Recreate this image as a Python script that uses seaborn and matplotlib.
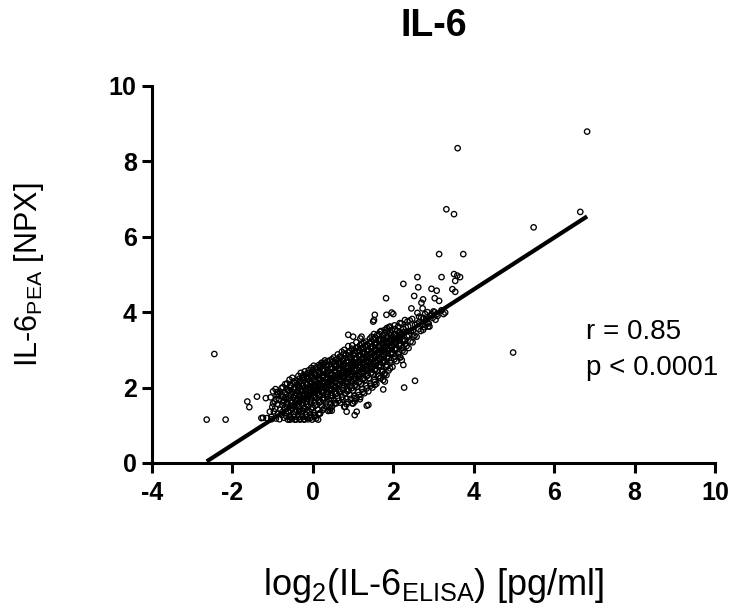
import numpy as np
import pandas as pd
import matplotlib
matplotlib.use("Agg")
import matplotlib.pyplot as plt
import seaborn as sns

# data: log2(IL-6 ELISA) vs IL-6 PEA (NPX)
outlier_pts = [(-2.64, 1.15), (-2.17, 1.15), (-2.45, 2.89), (3.14, 5.54), (3.74, 5.54),
               (3.32, 6.73), (3.51, 6.60), (3.60, 8.35), (5.49, 6.25), (6.65, 6.66),
               (6.82, 8.79), (4.98, 2.93)]

edge_pts = [(-1.63, 1.63), (-1.58, 1.48), (-1.39, 1.76), (-1.17, 1.72), (-1.28, 1.19),
            (-1.24, 1.20), (-1.14, 1.19), (-1.03, 1.16), (-1.07, 1.36), (-0.99, 1.58),
            (-0.89, 1.88), (-0.78, 1.98), (-0.74, 1.76), (-0.90, 1.80),
            (-0.57, 1.15), (-0.45, 1.15), (-0.32, 1.15), (-0.20, 1.16), (-0.07, 1.19),
            (0.05, 1.23), (0.13, 1.15), (0.17, 1.32), (0.42, 1.39), (0.47, 1.39),
            (0.80, 1.49), (0.84, 1.36), (1.04, 1.27), (1.09, 1.36), (1.00, 1.58),
            (1.04, 1.63), (1.17, 1.69), (1.38, 1.54), (1.34, 1.52), (1.54, 2.07),
            (1.75, 1.95), (2.27, 2.00), (2.54, 2.18), (1.67, 2.25), (1.75, 2.20),
            (1.79, 2.16), (1.83, 2.33), (1.79, 2.38), (1.92, 2.51), (2.16, 2.80),
            (2.21, 2.73), (2.25, 2.60),
            (2.29, 3.16), (2.50, 3.35), (2.74, 3.53), (2.87, 3.62), (1.50, 3.75),
            (1.54, 3.93), (1.52, 3.79), (1.83, 3.93), (1.96, 3.99), (2.00, 3.95),
            (0.88, 3.40), (1.00, 3.35), (1.21, 3.35), (1.46, 3.35), (1.67, 3.48),
            (1.79, 3.53), (2.16, 3.71), (2.29, 3.79), (1.92, 3.62), (1.82, 4.37),
            (2.45, 4.10), (2.73, 4.10), (2.74, 4.34), (2.70, 4.25), (3.03, 4.37),
            (3.14, 4.30), (2.95, 4.62), (3.08, 4.57), (2.52, 4.43), (2.62, 4.66),
            (2.25, 4.75), (2.60, 4.93), (3.20, 4.93), (3.51, 5.01), (3.59, 4.97),
            (3.66, 4.93), (3.54, 4.83), (3.47, 4.61), (3.54, 4.54), (3.29, 3.99),
            (2.75, 3.85), (2.85, 3.72), (2.95, 3.95), (3.05, 3.80), (3.10, 3.90),
            (3.20, 4.05), (3.25, 3.95), (2.90, 3.62), (3.00, 4.02), (2.65, 3.74),
            (2.60, 3.98), (2.85, 4.00), (0.22, 2.64), (0.30, 2.72), (0.15, 2.60)]

core_pts = [
    (-1.03, 1.22), (-0.97, 1.37), (-1.01, 1.49), (-0.95, 1.63), (-1.05, 1.74), (-0.99, 1.90),
    (-0.92, 1.18), (-0.87, 1.31), (-0.94, 1.44), (-0.88, 1.57), (-0.91, 1.69), (-0.86, 1.83), (-0.93, 1.96),
    (-0.83, 1.16), (-0.77, 1.28), (-0.81, 1.41), (-0.76, 1.54), (-0.84, 1.67), (-0.79, 1.77), (-0.82, 1.89), (-0.75, 2.01),
    (-0.72, 1.20), (-0.67, 1.33), (-0.71, 1.45), (-0.66, 1.56), (-0.73, 1.64), (-0.68, 1.74), (-0.70, 1.86), (-0.65, 1.97), (-0.69, 2.09),
    (-0.62, 1.15), (-0.58, 1.26), (-0.61, 1.37), (-0.56, 1.51), (-0.63, 1.60), (-0.59, 1.71), (-0.55, 1.79), (-0.60, 1.91), (-0.57, 2.00), (-0.64, 2.11), (-0.58, 2.21),
    (-0.52, 1.17), (-0.48, 1.29), (-0.51, 1.43), (-0.46, 1.52), (-0.53, 1.61), (-0.49, 1.73), (-0.45, 1.81), (-0.50, 1.87), (-0.47, 1.97), (-0.54, 2.04), (-0.48, 2.16), (-0.51, 2.26),
    (-0.42, 1.15), (-0.37, 1.27), (-0.41, 1.41), (-0.36, 1.49), (-0.43, 1.60), (-0.39, 1.69), (-0.35, 1.76), (-0.40, 1.85), (-0.38, 1.92), (-0.44, 2.01), (-0.37, 2.08), (-0.41, 2.19), (-0.36, 2.31),
    (-0.32, 1.17), (-0.28, 1.31), (-0.31, 1.42), (-0.26, 1.55), (-0.33, 1.63), (-0.29, 1.71), (-0.25, 1.80), (-0.30, 1.89), (-0.27, 1.95), (-0.34, 2.03), (-0.28, 2.11), (-0.31, 2.18), (-0.26, 2.28), (-0.30, 2.39),
    (-0.22, 1.15), (-0.18, 1.29), (-0.21, 1.46), (-0.16, 1.56), (-0.23, 1.66), (-0.19, 1.73), (-0.15, 1.82), (-0.20, 1.91), (-0.17, 1.97), (-0.24, 2.05), (-0.18, 2.12), (-0.21, 2.21), (-0.16, 2.30), (-0.20, 2.43),
    (-0.12, 1.16), (-0.08, 1.36), (-0.11, 1.50), (-0.06, 1.61), (-0.13, 1.70), (-0.09, 1.78), (-0.05, 1.87), (-0.10, 1.94), (-0.07, 2.02), (-0.14, 2.08), (-0.08, 2.17), (-0.11, 2.24), (-0.06, 2.34), (-0.10, 2.46),
    (-0.02, 1.15), (0.03, 1.33), (-0.01, 1.48), (0.04, 1.60), (-0.03, 1.71), (0.01, 1.79), (0.05, 1.88), (0.00, 1.95), (0.02, 2.03), (-0.04, 2.10), (0.03, 2.19), (-0.01, 2.26), (0.04, 2.36), (0.00, 2.47), (0.02, 2.58),
    (0.08, 1.18), (0.13, 1.41), (0.09, 1.55), (0.14, 1.67), (0.07, 1.76), (0.11, 1.85), (0.15, 1.93), (0.10, 2.00), (0.12, 2.08), (0.06, 2.14), (0.13, 2.23), (0.09, 2.30), (0.14, 2.41), (0.10, 2.52),
    (0.18, 1.31), (0.23, 1.50), (0.19, 1.63), (0.24, 1.72), (0.17, 1.82), (0.21, 1.90), (0.25, 1.99), (0.20, 2.06), (0.22, 2.13), (0.16, 2.21), (0.23, 2.28), (0.19, 2.37), (0.24, 2.45), (0.20, 2.58), (0.22, 2.66),
    (0.28, 1.45), (0.33, 1.61), (0.29, 1.72), (0.34, 1.83), (0.27, 1.91), (0.31, 1.99), (0.35, 2.07), (0.30, 2.15), (0.32, 2.21), (0.26, 2.29), (0.33, 2.36), (0.29, 2.44), (0.34, 2.55), (0.30, 2.66),
    (0.38, 1.38), (0.43, 1.55), (0.39, 1.69), (0.44, 1.79), (0.37, 1.88), (0.41, 1.97), (0.45, 2.05), (0.40, 2.13), (0.42, 2.20), (0.36, 2.27), (0.43, 2.35), (0.39, 2.42), (0.44, 2.50), (0.40, 2.61), (0.42, 2.72),
    (0.48, 1.50), (0.53, 1.66), (0.49, 1.78), (0.54, 1.89), (0.47, 1.97), (0.51, 2.05), (0.55, 2.14), (0.50, 2.21), (0.52, 2.28), (0.46, 2.35), (0.53, 2.43), (0.49, 2.50), (0.54, 2.58), (0.50, 2.69), (0.52, 2.80),
    (0.58, 1.58), (0.63, 1.72), (0.59, 1.84), (0.64, 1.95), (0.57, 2.03), (0.61, 2.11), (0.65, 2.19), (0.60, 2.27), (0.62, 2.34), (0.56, 2.41), (0.63, 2.49), (0.59, 2.56), (0.64, 2.65), (0.60, 2.75), (0.62, 2.88),
    (0.68, 1.60), (0.73, 1.75), (0.69, 1.88), (0.74, 1.99), (0.67, 2.09), (0.71, 2.17), (0.75, 2.25), (0.70, 2.33), (0.72, 2.40), (0.66, 2.47), (0.73, 2.54), (0.69, 2.62), (0.74, 2.71), (0.70, 2.82), (0.72, 2.95),
    (0.78, 1.49), (0.83, 1.70), (0.79, 1.85), (0.84, 1.96), (0.77, 2.06), (0.81, 2.15), (0.85, 2.23), (0.80, 2.31), (0.82, 2.39), (0.76, 2.46), (0.83, 2.53), (0.79, 2.60), (0.84, 2.68), (0.80, 2.77), (0.82, 2.88), (0.78, 3.00),
    (0.88, 1.62), (0.93, 1.80), (0.89, 1.94), (0.94, 2.05), (0.87, 2.15), (0.91, 2.24), (0.95, 2.32), (0.90, 2.40), (0.92, 2.47), (0.86, 2.54), (0.93, 2.61), (0.89, 2.68), (0.94, 2.76), (0.90, 2.85), (0.92, 2.96), (0.88, 3.10),
    (0.98, 1.58), (1.03, 1.78), (0.99, 1.92), (1.04, 2.04), (0.97, 2.14), (1.01, 2.23), (1.05, 2.32), (1.00, 2.40), (1.02, 2.48), (0.96, 2.55), (1.03, 2.62), (0.99, 2.70), (1.04, 2.78), (1.00, 2.87), (1.02, 2.98), (0.98, 3.12),
    (1.08, 1.70), (1.13, 1.88), (1.09, 2.02), (1.14, 2.13), (1.07, 2.23), (1.11, 2.32), (1.15, 2.40), (1.10, 2.48), (1.12, 2.56), (1.06, 2.63), (1.13, 2.70), (1.09, 2.78), (1.14, 2.86), (1.10, 2.95), (1.12, 3.06), (1.08, 3.20),
    (1.18, 1.75), (1.23, 1.95), (1.19, 2.10), (1.24, 2.22), (1.17, 2.32), (1.21, 2.41), (1.25, 2.49), (1.20, 2.57), (1.22, 2.64), (1.16, 2.71), (1.23, 2.78), (1.19, 2.86), (1.24, 2.94), (1.20, 3.04), (1.22, 3.16), (1.18, 3.30),
    (1.28, 1.85), (1.33, 2.05), (1.29, 2.20), (1.34, 2.30), (1.27, 2.40), (1.31, 2.48), (1.35, 2.56), (1.30, 2.63), (1.32, 2.70), (1.26, 2.77), (1.33, 2.84), (1.29, 2.92), (1.34, 3.00), (1.30, 3.10), (1.32, 3.22),
    (1.38, 1.90), (1.43, 2.10), (1.39, 2.25), (1.44, 2.37), (1.37, 2.47), (1.41, 2.55), (1.45, 2.63), (1.40, 2.70), (1.42, 2.77), (1.36, 2.84), (1.43, 2.91), (1.39, 2.99), (1.44, 3.08), (1.40, 3.18), (1.42, 3.30),
    (1.48, 2.00), (1.53, 2.20), (1.49, 2.35), (1.54, 2.46), (1.47, 2.55), (1.51, 2.63), (1.55, 2.71), (1.50, 2.78), (1.52, 2.85), (1.46, 2.92), (1.53, 3.00), (1.49, 3.08), (1.54, 3.17), (1.50, 3.28), (1.52, 3.42),
    (1.58, 2.10), (1.63, 2.30), (1.59, 2.45), (1.64, 2.55), (1.57, 2.64), (1.61, 2.72), (1.65, 2.80), (1.60, 2.88), (1.62, 2.95), (1.56, 3.02), (1.63, 3.10), (1.59, 3.18), (1.64, 3.28), (1.60, 3.40),
    (1.68, 2.25), (1.73, 2.42), (1.69, 2.55), (1.74, 2.65), (1.67, 2.74), (1.71, 2.82), (1.75, 2.90), (1.70, 2.97), (1.72, 3.04), (1.66, 3.11), (1.73, 3.19), (1.69, 3.28), (1.74, 3.38), (1.70, 3.50),
    (1.78, 2.35), (1.83, 2.55), (1.79, 2.68), (1.84, 2.78), (1.77, 2.87), (1.81, 2.95), (1.85, 3.03), (1.80, 3.10), (1.82, 3.17), (1.76, 3.25), (1.83, 3.34), (1.79, 3.45), (1.84, 3.58),
    (1.88, 2.45), (1.93, 2.65), (1.89, 2.78), (1.94, 2.88), (1.87, 2.97), (1.91, 3.05), (1.95, 3.13), (1.90, 3.20), (1.92, 3.28), (1.86, 3.36), (1.93, 3.46), (1.89, 3.60),
    (1.98, 2.55), (2.03, 2.75), (1.99, 2.90), (2.04, 3.00), (1.97, 3.09), (2.01, 3.17), (2.05, 3.25), (2.00, 3.33), (2.02, 3.42), (1.96, 3.52), (2.03, 3.65),
    (2.08, 2.70), (2.13, 2.88), (2.09, 3.02), (2.14, 3.12), (2.07, 3.21), (2.11, 3.30), (2.15, 3.39), (2.10, 3.50), (2.12, 3.62),
    (2.18, 2.80), (2.23, 2.98), (2.19, 3.12), (2.24, 3.23), (2.17, 3.33), (2.21, 3.43), (2.25, 3.55), (2.20, 3.70),
    (2.28, 2.95), (2.33, 3.10), (2.29, 3.25), (2.34, 3.36), (2.27, 3.47), (2.31, 3.60), (2.35, 3.75),
    (2.38, 3.05), (2.43, 3.22), (2.39, 3.38), (2.44, 3.50), (2.37, 3.62), (2.41, 3.78),
    (2.48, 3.20), (2.53, 3.38), (2.49, 3.52), (2.54, 3.66), (2.47, 3.82),
    (2.58, 3.35), (2.63, 3.55), (2.59, 3.70), (2.64, 3.88),
    (2.68, 3.50), (2.73, 3.68), (2.69, 3.85),
    (2.78, 3.60), (2.83, 3.80), (2.79, 3.95),
    (2.88, 3.70), (2.93, 3.90),
    (2.98, 3.85), (3.03, 4.00),
    (3.08, 3.95),
]

# second pass over the dense middle of the cloud
core_fill_pts = [
    (-0.76, 1.35), (-0.74, 1.60), (-0.77, 1.82),
    (-0.66, 1.24), (-0.64, 1.49), (-0.66, 1.69), (-0.63, 1.93),
    (-0.56, 1.21), (-0.54, 1.46), (-0.55, 1.66), (-0.53, 1.84), (-0.56, 2.07),
    (-0.46, 1.22), (-0.44, 1.36), (-0.45, 1.56), (-0.43, 1.78), (-0.46, 1.95), (-0.44, 2.12),
    (-0.36, 1.21), (-0.34, 1.37), (-0.35, 1.58), (-0.33, 1.81), (-0.36, 1.98), (-0.34, 2.15), (-0.33, 2.24),
    (-0.26, 1.23), (-0.24, 1.38), (-0.25, 1.60), (-0.23, 1.77), (-0.26, 1.93), (-0.24, 2.07), (-0.25, 2.25), (-0.23, 2.34),
    (-0.16, 1.21), (-0.14, 1.40), (-0.15, 1.63), (-0.13, 1.79), (-0.16, 1.95), (-0.14, 2.10), (-0.15, 2.26), (-0.13, 2.38),
    (-0.06, 1.26), (-0.04, 1.43), (-0.05, 1.66), (-0.03, 1.83), (-0.06, 1.98), (-0.04, 2.13), (-0.05, 2.29), (-0.03, 2.41), (-0.04, 2.52),
    (0.04, 1.27), (0.06, 1.52), (0.05, 1.73), (0.07, 1.91), (0.04, 2.06), (0.06, 2.22), (0.05, 2.38), (0.07, 2.53),
    (0.14, 1.30), (0.16, 1.60), (0.15, 1.79), (0.17, 1.96), (0.14, 2.10), (0.16, 2.26), (0.15, 2.45), (0.17, 2.56),
    (0.24, 1.40), (0.26, 1.67), (0.25, 1.86), (0.27, 2.02), (0.24, 2.17), (0.26, 2.33), (0.25, 2.50), (0.27, 2.62),
    (0.34, 1.52), (0.36, 1.76), (0.35, 1.95), (0.37, 2.10), (0.34, 2.24), (0.36, 2.39), (0.35, 2.60), (0.37, 2.70),
    (0.44, 1.45), (0.46, 1.72), (0.45, 1.93), (0.47, 2.09), (0.44, 2.24), (0.46, 2.38), (0.45, 2.55), (0.47, 2.75),
    (0.54, 1.58), (0.56, 1.83), (0.55, 2.01), (0.57, 2.17), (0.54, 2.31), (0.56, 2.46), (0.55, 2.63), (0.57, 2.74),
    (0.64, 1.65), (0.66, 1.90), (0.65, 2.07), (0.67, 2.23), (0.64, 2.37), (0.66, 2.52), (0.65, 2.70), (0.67, 2.82),
    (0.74, 1.68), (0.76, 1.93), (0.75, 2.12), (0.77, 2.28), (0.74, 2.43), (0.76, 2.58), (0.75, 2.76), (0.77, 2.90),
    (0.84, 1.56), (0.86, 1.90), (0.85, 2.10), (0.87, 2.27), (0.84, 2.43), (0.86, 2.57), (0.85, 2.72), (0.87, 2.93),
    (0.94, 1.70), (0.96, 1.98), (0.95, 2.19), (0.97, 2.36), (0.94, 2.50), (0.96, 2.65), (0.95, 2.81), (0.97, 3.03),
    (1.04, 1.72), (1.06, 2.08), (1.05, 2.27), (1.07, 2.44), (1.04, 2.59), (1.06, 2.74), (1.05, 2.91), (1.07, 3.05),
    (1.14, 1.80), (1.16, 2.16), (1.15, 2.36), (1.17, 2.52), (1.14, 2.67), (1.16, 2.82), (1.15, 3.00), (1.17, 3.12),
    (1.24, 1.88), (1.26, 2.26), (1.25, 2.44), (1.27, 2.60), (1.24, 2.74), (1.26, 2.88), (1.25, 3.05), (1.27, 3.18),
    (1.34, 1.98), (1.36, 2.33), (1.35, 2.51), (1.37, 2.66), (1.34, 2.80), (1.36, 2.95), (1.35, 3.13),
    (1.44, 2.05), (1.46, 2.40), (1.45, 2.59), (1.47, 2.74), (1.44, 2.88), (1.46, 3.03), (1.45, 3.22),
    (1.54, 2.15), (1.56, 2.50), (1.55, 2.68), (1.57, 2.82), (1.54, 2.97), (1.56, 3.13), (1.55, 3.33),
    (1.64, 2.30), (1.66, 2.60), (1.65, 2.77), (1.67, 2.92), (1.64, 3.07), (1.66, 3.22), (1.65, 3.42),
    (1.74, 2.45), (1.76, 2.72), (1.75, 2.86), (1.77, 3.00), (1.74, 3.14), (1.76, 3.30),
    (1.84, 2.60), (1.86, 2.83), (1.85, 2.99), (1.87, 3.15), (1.84, 3.30), (1.86, 3.50),
    (1.94, 2.72), (1.96, 2.94), (1.95, 3.09), (1.97, 3.24), (1.94, 3.40),
    (2.04, 2.82), (2.06, 3.04), (2.05, 3.20), (2.07, 3.36), (2.04, 3.55),
    (2.14, 2.95), (2.16, 3.17), (2.15, 3.34), (2.17, 3.46),
    (2.24, 3.05), (2.26, 3.28), (2.25, 3.46),
]

# linear fit as drawn in the reference
fit_slope = 0.687
fit_intercept = 1.855
r_text = "r = 0.85\np < 0.0001"

pts = outlier_pts + edge_pts + core_pts + core_fill_pts
df = pd.DataFrame(pts, columns=["elisa", "pea"])

sns.set_style("ticks")
plt.rcParams["font.family"] = ["Liberation Sans", "DejaVu Sans"]
plt.rcParams["mathtext.fontset"] = "custom"
plt.rcParams["mathtext.rm"] = "Liberation Sans"
plt.rcParams["mathtext.it"] = "Liberation Sans:italic"
plt.rcParams["mathtext.bf"] = "Liberation Sans:bold"
plt.rcParams["axes.unicode_minus"] = False
for k in ["text.color", "axes.labelcolor", "xtick.color", "ytick.color", "axes.edgecolor"]:
    plt.rcParams[k] = "black"

fig = plt.figure(figsize=(7.43, 6.15), dpi=100)
ax = fig.add_axes([0.2046, 0.2472, 0.7577, 0.6130])

sns.scatterplot(data=df, x="elisa", y="pea", ax=ax, marker="o", s=15,
                facecolor="none", edgecolor="black", linewidth=0.95, zorder=2)

xs = np.array([df["elisa"].min(), df["elisa"].max()])
ax.plot(xs, fit_intercept + fit_slope * xs, color="black", lw=3.0, zorder=3,
        solid_capstyle="butt")

ax.set_xlim(-4, 10)
ax.set_ylim(0, 10)
ax.set_xticks(np.arange(-4, 11, 2))
ax.set_yticks(np.arange(0, 11, 2))
for s in ["top", "right"]:
    ax.spines[s].set_visible(False)
for s in ["left", "bottom"]:
    ax.spines[s].set_linewidth(2.2)
ax.tick_params(width=2.2, length=7, labelsize=18)
ax.tick_params(axis="x", pad=6)
ax.tick_params(axis="y", pad=4)
for lab in ax.get_xticklabels() + ax.get_yticklabels():
    lab.set_fontweight("bold")

ax.set_title("IL-6", fontsize=27, fontweight="bold", pad=36)
ax.set_xlabel(r"log$_2$(IL-6$_{\mathrm{ELISA}}$) [pg/ml]", fontsize=26, labelpad=44)
ax.set_ylabel(r"IL-6$_{\mathrm{PEA}}$ [NPX]", fontsize=22, labelpad=45)

ax.text(6.8, 3.0, r_text, fontsize=20, ha="left", va="center", linespacing=1.5)

fig.savefig("out.png", dpi=100)
